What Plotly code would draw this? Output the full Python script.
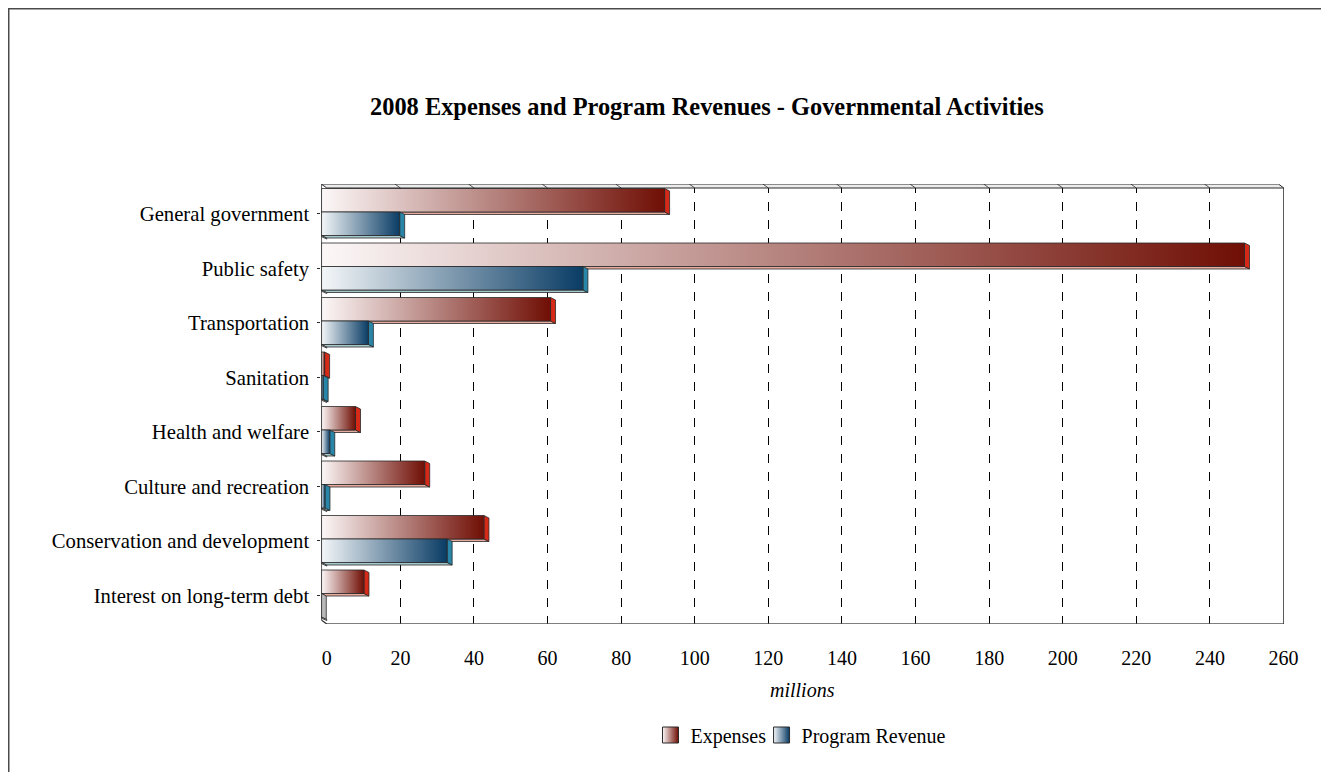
import plotly.graph_objects as go

# ---------------- data ----------------
categories = [
    "General government",
    "Public safety",
    "Transportation",
    "Sanitation",
    "Health and welfare",
    "Culture and recreation",
    "Conservation and development",
    "Interest on long-term debt",
]
expenses = [93.3, 250.9, 62.3, 0.9, 9.3, 28.1, 44.2, 11.6]
program_revenue = [21.3, 71.1, 12.8, 0.5, 2.3, 1.0, 34.2, 0.0]
x_ticks = list(range(0, 261, 20))
series_names = ["Expenses", "Program Revenue"]

# ---------------- geometry / style ----------------
OFF = 8                         # page body margin
S = 1345 / 1329                 # horizontal capture compensation
W, H = 1329, 780 - 2 * OFF


def hx(px):                     # reference px (horizontal) -> figure px
    return px * S - OFF


def vy(px):                     # reference px (vertical) -> figure px
    return px - OFF


X0, X1 = hx(321), hx(1283)      # plot area left (front wall) / right (back wall)
Y0, Y1 = vy(184), vy(624)       # plot area top / bottom
SY = 54.5                       # px per category band
XMAX = 261.6
SX = (X1 - X0) / XMAX
YBOT = -0.5 + (Y1 - Y0) / SY
DXW, DYW = 5.5 * S / SX, 4.0 / SY     # wall depth
DXB, DYB = 5.0 * S / SX, 2.5 / SY     # bar depth
FONT = "Liberation Serif, Times New Roman, serif"
EDGE = "#2a2a2a"

styles = {
    "Expenses": dict(c0="#fcf8f8", c1="#6e0c02", cap="#d62a18", bottom="#e7aa9e",
                     top_off=4.5, bot_off=28.0, legend="legend", lx=650),
    "Program Revenue": dict(c0="#f4f7f9", c1="#073a63", cap="#2a86a8", bottom="#a4c8cc",
                            top_off=28.0, bot_off=51.5, legend="legend2", lx=761),
}

fig = go.Figure()


def poly(xs, ys, **kw):
    fig.add_trace(go.Scatter(
        x=xs + [xs[0]], y=ys + [ys[0]], mode="lines", fill="toself",
        line=dict(color=EDGE, width=0.8), hoverinfo="skip", showlegend=False,
        xaxis="x", yaxis="y", **kw))


for k, cat in enumerate(categories):
    for name, vals in zip(series_names, [expenses, program_revenue]):
        st = styles[name]
        v = vals[k]
        yt = k - 0.5 + st["top_off"] / SY
        yb = k - 0.5 + st["bot_off"] / SY
        cap_col = st["cap"] if v > 0 else "#b8b8b8"
        if v > 0:
            poly([0, v, v + DXB, DXB], [yb, yb, yb + DYB, yb + DYB],
                 fillcolor=st["bottom"])
        poly([v, v + DXB, v + DXB, v], [yt, yt + DYB, yb + DYB, yb],
             fillcolor=cap_col)
        if v > 0:
            poly([0, v, v, 0], [yt, yt, yb, yb],
                 fillgradient=dict(type="horizontal",
                                   colorscale=[[0, st["c0"]], [1, st["c1"]]],
                                   start=0, stop=v))
    yb2 = k - 0.5 + styles["Program Revenue"]["bot_off"] / SY
    poly([0, DXW, DXW, 0], [yb2, yb2 + DYB, yb2 + DYB + 0.02, yb2 + 0.02], fillcolor="#c4c4c4")

# legend entries (gradient squares), one legend per series for exact placement
for name in series_names:
    st = styles[name]
    fig.add_trace(go.Scatter(
        x=[None], y=[None], mode="markers", name=name, legend=st["legend"],
        marker=dict(symbol="square", size=17, color=st["c0"],
                    gradient=dict(type="horizontal", color=st["c1"]),
                    line=dict(color=EDGE, width=1)),
        xaxis="x", yaxis="y"))

fig.add_trace(go.Scatter(x=[None], y=[None], xaxis="x2", yaxis="y", showlegend=False, hoverinfo="skip"))
fig.add_trace(go.Scatter(x=[None], y=[None], xaxis="x3", yaxis="y", showlegend=False, hoverinfo="skip"))

# ---------------- 3D frame shapes ----------------
shapes = []


def seg(xa, ya, xb, yb, color=EDGE, width=1.2):
    shapes.append(dict(type="line", xref="x", yref="y", x0=xa, y0=ya, x1=xb, y1=yb,
                       line=dict(color=color, width=width), layer="above"))


shapes.append(dict(type="path", xref="x", yref="y", layer="above",
                   path=f"M0,-0.5 L{XMAX-DXW},-0.5 L{XMAX},{-0.5+DYW} L{DXW},{-0.5+DYW} Z",
                   fillcolor="#ececec", line=dict(color=EDGE, width=1)))
for t in x_ticks[1:-1]:
    seg(t, -0.5, t + DXW, -0.5 + DYW, width=0.8)
seg(0, -0.5, 0, YBOT - DYW, width=1.5)
seg(0, YBOT - DYW, DXW, YBOT, width=1.2)
seg(DXW, YBOT, XMAX, YBOT, color="#555555", width=1.5)
seg(XMAX, -0.5 + DYW, XMAX, YBOT, width=1.5)

# outer frame (top/left)
shapes.append(dict(type="line", xref="paper", yref="paper", x0=0, x1=1, y0=1 - 0.5 / H, y1=1 - 0.5 / H,
                   line=dict(color="#4a4a4a", width=2)))
shapes.append(dict(type="line", xref="paper", yref="paper", x0=0.5 / W, x1=0.5 / W, y0=0, y1=1,
                   line=dict(color="#4a4a4a", width=2)))

leg_common = dict(orientation="h", xanchor="left", y=1 - vy(735) / H, yanchor="middle",
                  font=dict(size=20), bgcolor="rgba(0,0,0,0)", itemclick=False,
                  itemdoubleclick=False)

fig.update_layout(
    width=W, height=H,
    margin=dict(l=0, r=0, t=0, b=0),
    paper_bgcolor="white", plot_bgcolor="rgba(0,0,0,0)",
    font=dict(family=FONT, color="black", size=20),
    shapes=shapes,
    xaxis=dict(domain=[X0 / W, X1 / W], range=[0, XMAX], visible=False, fixedrange=True),
    xaxis2=dict(overlaying="x", anchor="y", range=[-DXW, XMAX - DXW],
                tickvals=x_ticks[1:-1], showticklabels=False, ticks="",
                showgrid=True, gridcolor="black", griddash="dash", gridwidth=1,
                zeroline=False, showline=False, fixedrange=True),
    xaxis3=dict(overlaying="x", anchor="y", side="bottom", range=[-DXW, XMAX - DXW],
                tickvals=x_ticks, ticktext=[str(t) for t in x_ticks],
                showgrid=False, zeroline=False, showline=False, ticks="",
                ticklabelstandoff=20, tickfont=dict(size=20), fixedrange=True),
    yaxis=dict(domain=[1 - Y1 / H, 1 - Y0 / H], range=[YBOT, -0.5],
               tickvals=[k + 0.05 for k in range(len(categories))], ticktext=categories,
               showgrid=False, zeroline=False, showline=False,
               ticks="outside", ticklen=3, tickcolor=EDGE,
               ticklabelstandoff=4, tickfont=dict(size=20.7), fixedrange=True),
    legend=dict(x=hx(styles["Expenses"]["lx"]) / W, **leg_common),
    legend2=dict(x=hx(styles["Program Revenue"]["lx"]) / W, **leg_common),
    annotations=[
        dict(text="<b>2008 Expenses and Program Revenues - Governmental Activities</b>",
             xref="paper", yref="paper", x=hx(706) / W, y=1 - vy(106) / H,
             xanchor="center", yanchor="middle", showarrow=False, font=dict(size=24.4)),
        dict(text="<i>millions</i>", xref="paper", yref="paper", x=hx(802) / W,
             y=1 - vy(690) / H, xanchor="center", yanchor="middle", showarrow=False,
             font=dict(size=20)),
    ],
)

fig.write_html("out.html")
